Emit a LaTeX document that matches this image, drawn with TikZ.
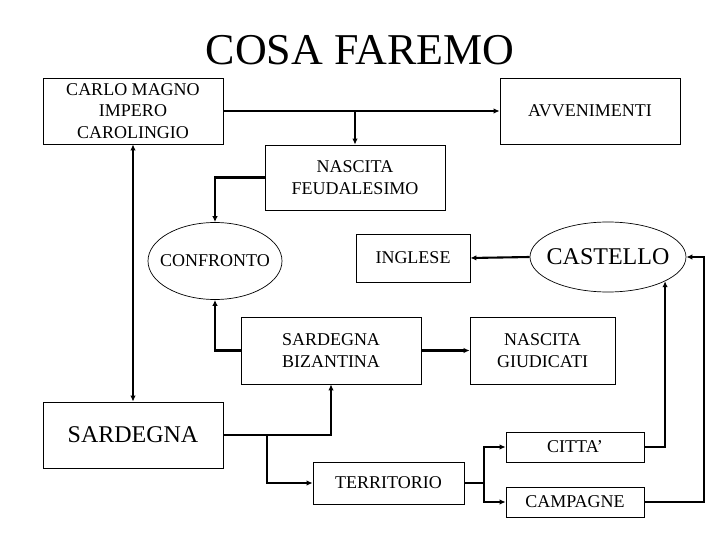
\documentclass[tikz,border=0pt]{standalone}
\usepackage{fontspec}
\setmainfont{Liberation Serif}
\usetikzlibrary{arrows.meta,positioning,shapes.geometric}

\begin{document}
\begin{tikzpicture}[x=1pt,y=-1pt,>={Latex[length=6pt,width=5.5pt]},
  box/.style={draw, line width=0.8pt, inner sep=0pt, align=center, font=\fontsize{18}{21.5}\selectfont},
  oval/.style={draw, ellipse, line width=0.7pt, inner sep=0pt},
  link/.style={line width=2.1pt}]
\useasboundingbox (0,0) rectangle (720,540);
% title
\node (title) at (360,50) {\fontsize{44}{50}\selectfont COSA FAREMO};
% boxes, top part
\node[box, minimum width=180pt, minimum height=66pt] (carlo) at (133,111) {CARLO MAGNO\\IMPERO\\CAROLINGIO};
\node[box, minimum width=180pt, minimum height=66pt] (avv) at (590,111) {AVVENIMENTI};
\node[box, minimum width=180pt, minimum height=65pt] (feud) at (355,177.5) {NASCITA\\FEUDALESIMO};
% middle row
\node[oval, minimum width=134pt, minimum height=77pt, font=\fontsize{18}{21.5}\selectfont] (confr) at (215,261) {\makebox[0pt]{CONFRONTO}};
\node[box, minimum width=114pt, minimum height=48pt] (ingl) at (413,258) {INGLESE};
\node[oval, minimum width=156pt, minimum height=70pt, font=\fontsize{24}{28}\selectfont] (cast) at (608,257) {\makebox[0pt]{CASTELLO}};
\node[box, minimum width=180pt, minimum height=67pt] (biz) at (331,350.5) {SARDEGNA\\BIZANTINA};
\node[box, minimum width=145pt, minimum height=67pt] (giud) at (542.5,350.5) {NASCITA\\GIUDICATI};
% bottom part
\node[box, minimum width=180pt, minimum height=66pt, font=\fontsize{24}{28}\selectfont] (sard) at (133,435) {SARDEGNA};
\node[box, minimum width=151pt, minimum height=42pt] (terr) at (388.5,483) {TERRITORIO};
\node[box, minimum width=138pt, minimum height=30pt] (citta) at (575,447) {CITTA’};
\node[box, minimum width=138pt, minimum height=30pt] (camp) at (575,502) {CAMPAGNE};
% branch points
\coordinate (bsard) at (267,435);
\coordinate (bterr) at (484,483);
% connectors
\draw[link,->] (carlo.east) -- (avv.west);
\draw[link,->] (feud.north |- carlo.east) -- (feud.north);
\draw[link,->] (feud.west) -| (confr.north);
\draw[link,->] (biz.west) -| (confr.south);
\draw[link,->] (biz.east) -- (giud.west);
\draw[link,->] (cast.west) -- (ingl.east);
\draw[link,<->] (carlo.south) -- (sard.north);
\draw[link,->] (sard.east) -| (biz.south);
\draw[link,->] (bsard) |- (terr.west);
\draw[link] (terr.east) -- (bterr);
\draw[link,->] (bterr) |- (citta.west);
\draw[link,->] (bterr) |- (camp.west);
\draw[link,->] (citta.east) -| (cast.-23.5);
\draw[link,->] (camp.east) -- ++(60,0) |- (cast.east);
\end{tikzpicture}
\end{document}
